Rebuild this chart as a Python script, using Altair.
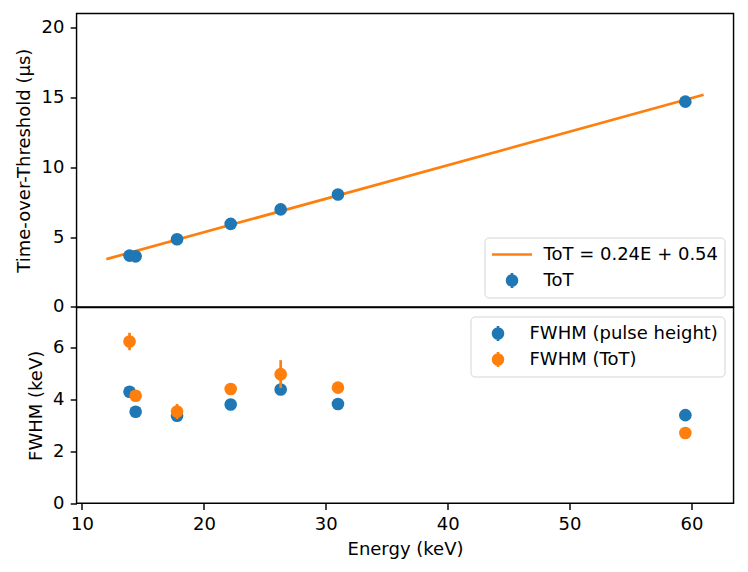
import altair as alt
import pandas as pd

BLUE = "#1f77b4"
ORANGE = "#ff7f0e"

# ---- data ----
energy = [13.9, 14.4, 17.8, 22.2, 26.3, 31.0, 59.5]
tot_us = [3.67, 3.62, 4.84, 5.94, 6.98, 8.05, 14.69]
tot_err = [0.08, 0.08, 0.08, 0.08, 0.08, 0.08, 0.10]
fit_energy = [12.0, 61.0]
fit_tot = [3.42, 15.18]
fwhm_ph = [4.29, 3.52, 3.37, 3.80, 4.38, 3.82, 3.39]
fwhm_ph_err = [0.12, 0.12, 0.20, 0.12, 0.15, 0.12, 0.10]
fwhm_tot = [6.23, 4.14, 3.53, 4.40, 4.97, 4.45, 2.70]
fwhm_tot_err = [0.335, 0.12, 0.29, 0.12, 0.54, 0.12, 0.08]
x_ticks = [10, 20, 30, 40, 50, 60]
top_ticks = [0, 5, 10, 15, 20]
bottom_ticks = [0, 2, 4, 6]
fit_label = "ToT = 0.24E + 0.54"
tot_label = "ToT"
ph_label = "FWHM (pulse height)"
ftot_label = "FWHM (ToT)"

top_pts = pd.DataFrame({"E": energy, "v": tot_us, "err": tot_err})
fit_df = pd.DataFrame({"E": fit_energy, "v": fit_tot})
ph_df = pd.DataFrame({"E": energy, "v": fwhm_ph, "err": fwhm_ph_err})
ft_df = pd.DataFrame({"E": energy, "v": fwhm_tot, "err": fwhm_tot_err})
legend_df = pd.DataFrame({"E": pd.Series([], dtype=float), "v": pd.Series([], dtype=float),
                          "series": pd.Series([], dtype=str)})

FONT = "DejaVu Sans"
FS = 18
LW = 2.7
MSIZE = 159


def ring(a):
    return f"M{-a},0A{a},{a} 0 1,0 {a},0A{a},{a} 0 1,0 {-a},0Z"


# errorbar-style legend handle: stroked concentric rings (look filled) + vertical bar
EB_PATH = "M0,-0.38L0,0.38" + ring(0.0675) + ring(0.18) + ring(0.2475)

x_scale = alt.Scale(domain=[9.55, 63.45], nice=False, zero=False)
top_y_scale = alt.Scale(domain=[0, 21], nice=False, zero=False)
bot_y_scale = alt.Scale(domain=[0, 7.54], nice=False, zero=False)


def legend(orient):
    return alt.Legend(
        title=None, orient=orient, offset=9,
        symbolSize=1600, symbolStrokeWidth=LW, symbolOpacity=1,
        clipHeight=22, rowPadding=4,
        padding=6, labelOffset=10, labelLimit=400,
        labelFont=FONT, labelFontSize=FS, labelColor="black",
        fillColor="rgba(255,255,255,0.8)", strokeColor="#d5d5d5", cornerRadius=4,
    )


top_axis = alt.Axis(values=top_ticks, title="Time-over-Threshold (µs)")
bot_axis = alt.Axis(values=bottom_ticks, title="FWHM (keV)")
x_axis = alt.Axis(values=x_ticks, title="Energy (keV)", format="d")


def err_layer(df, color, y_scale, axis, xaxis):
    return alt.Chart(df).transform_calculate(
        lo="datum.v - datum.err", hi="datum.v + datum.err"
    ).mark_rule(strokeWidth=LW, color=color).encode(
        x=alt.X("E:Q", scale=x_scale, axis=xaxis),
        y=alt.Y("lo:Q", scale=y_scale, axis=axis),
        y2="hi:Q",
    )


def pt_layer(df, color, y_scale, axis, xaxis):
    return alt.Chart(df).mark_point(filled=True, size=MSIZE, opacity=1, color=color).encode(
        x=alt.X("E:Q", scale=x_scale, axis=xaxis),
        y=alt.Y("v:Q", scale=y_scale, axis=axis),
    )


def legend_layer(domain, colors, shapes, y_scale, axis, xaxis, orient):
    leg = legend(orient)
    return alt.Chart(legend_df).mark_point(filled=False, strokeWidth=LW).encode(
        x=alt.X("E:Q", scale=x_scale, axis=xaxis),
        y=alt.Y("v:Q", scale=y_scale, axis=axis),
        stroke=alt.Stroke("series:N", scale=alt.Scale(domain=domain, range=colors), legend=leg),
        shape=alt.Shape("series:N", scale=alt.Scale(domain=domain, range=shapes), legend=leg),
    )


# ---- top panel ----
fit_line = alt.Chart(fit_df).mark_line(strokeWidth=LW, color=ORANGE).encode(
    x=alt.X("E:Q", scale=x_scale, axis=None),
    y=alt.Y("v:Q", scale=top_y_scale, axis=top_axis),
)
top = alt.layer(
    fit_line,
    err_layer(top_pts, BLUE, top_y_scale, top_axis, None),
    pt_layer(top_pts, BLUE, top_y_scale, top_axis, None),
    legend_layer([fit_label, tot_label], [ORANGE, BLUE], ["stroke", EB_PATH],
                 top_y_scale, top_axis, None, "bottom-right"),
).properties(width=657, height=293.4)

# ---- bottom panel ----
bottom = alt.layer(
    err_layer(ph_df, BLUE, bot_y_scale, bot_axis, x_axis),
    pt_layer(ph_df, BLUE, bot_y_scale, bot_axis, x_axis),
    err_layer(ft_df, ORANGE, bot_y_scale, bot_axis, x_axis),
    pt_layer(ft_df, ORANGE, bot_y_scale, bot_axis, x_axis),
    legend_layer([ph_label, ftot_label], [BLUE, ORANGE], [EB_PATH, EB_PATH],
                 bot_y_scale, bot_axis, x_axis, "top-right"),
).properties(width=657, height=195.6)

chart = alt.vconcat(top, bottom, spacing=0, bounds="flush").resolve_scale(
    stroke="independent", shape="independent", y="independent"
).resolve_legend(stroke="independent", shape="independent").properties(
    padding={"left": 6.5, "top": 4.5, "right": 5, "bottom": 5},
    background="white",
).configure(font=FONT).configure_view(
    stroke="black", strokeWidth=1.45
).configure_axis(
    grid=False, domain=False,
    labelFont=FONT, labelFontSize=FS, labelColor="black",
    tickColor="black", tickWidth=1.45, tickSize=6.3, labelPadding=6.3,
    titleFont=FONT, titleFontSize=FS, titleFontWeight="normal", titleColor="black",
    titlePadding=7,
)

chart.save("out.html", embed_options={"renderer": "svg", "actions": False})
